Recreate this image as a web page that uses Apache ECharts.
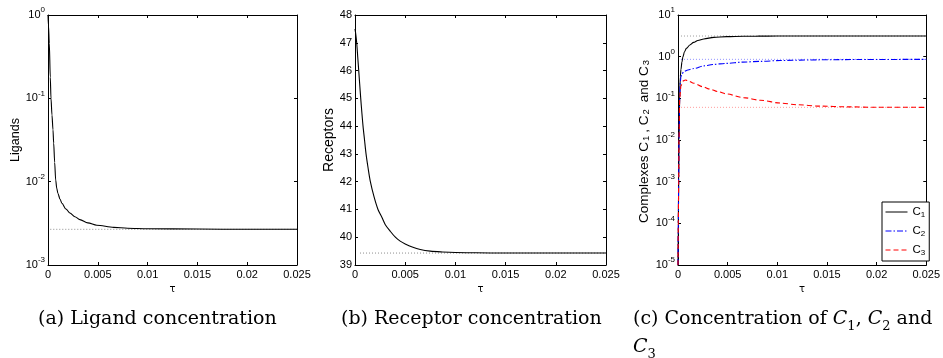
<!DOCTYPE html>
<html><head><meta charset="utf-8">
<script src="https://cdn.jsdelivr.net/npm/echarts@6/dist/echarts.min.js"></script>
<style>html,body{margin:0;padding:0;background:#fff}#chart{width:943px;height:358px}</style>
</head><body><div id="chart"></div>
<script>
// ---- data ----
const tauLig = [0, 0.00005, 0.00013, 0.00023, 0.0003, 0.0004, 0.0005, 0.00057, 0.00067, 0.00077, 0.00088, 0.001, 0.0012, 0.0014, 0.0018, 0.0022, 0.0027, 0.0032, 0.004, 0.0049, 0.0066, 0.008, 0.01, 0.015, 0.02, 0.025];
const ligands = [1.0, 0.74, 0.46, 0.18, 0.1, 0.063, 0.042, 0.029, 0.017, 0.0105, 0.0083, 0.0072, 0.0062, 0.0055, 0.0047, 0.0042, 0.0038, 0.0035, 0.0032, 0.0030, 0.00283, 0.00276, 0.00272, 0.0027, 0.00268, 0.00268];
const ligAsym = 0.00268, ligAsymStart = 0.00023;

const tauRec = [0, 0.00008, 0.00017, 0.00027, 0.00037, 0.00047, 0.00057, 0.00068, 0.0008, 0.00095, 0.0011, 0.0013, 0.00153, 0.0019, 0.00229, 0.0027, 0.00302, 0.0035, 0.00402, 0.0045, 0.005, 0.0057, 0.0065, 0.0075, 0.0087, 0.01, 0.012, 0.015, 0.02, 0.025];
const receptors = [47.5, 47.3, 47.0, 46.5, 46.0, 45.5, 45.0, 44.5, 44.0, 43.5, 43.0, 42.5, 42.0, 41.45, 41.0, 40.7, 40.45, 40.22, 40.0, 39.86, 39.76, 39.65, 39.56, 39.5, 39.47, 39.45, 39.44, 39.43, 39.43, 39.43];
const recAsym = 39.43, recAsymStart = 0.0005;

const tauC1 = [0, 0.00003, 0.00007, 0.0001, 0.00017, 0.00023, 0.0003, 0.0004, 0.0005, 0.00065, 0.00084, 0.0012, 0.00157, 0.002, 0.0026, 0.0036, 0.0049, 0.0066, 0.008, 0.01, 0.015, 0.025];
const c1 = [1e-5, 1e-4, 1e-3, 1e-2, 0.1, 0.33, 0.5, 0.75, 1.0, 1.3, 1.58, 1.9, 2.2, 2.45, 2.66, 2.91, 3.02, 3.08, 3.11, 3.125, 3.13, 3.13];
const tauC2 = [0, 0.00003, 0.00007, 0.0001, 0.00017, 0.00023, 0.0003, 0.0004, 0.0006, 0.001, 0.0016, 0.0026, 0.0035, 0.0049, 0.0065, 0.0083, 0.0103, 0.0143, 0.018, 0.025];
const c2 = [1e-5, 1e-4, 1e-3, 1e-2, 0.1, 0.25, 0.33, 0.39, 0.44, 0.48, 0.52, 0.6, 0.65, 0.69, 0.74, 0.77, 0.81, 0.84, 0.855, 0.862];
const tauC3 = [0, 0.00003, 0.00007, 0.0001, 0.00017, 0.0003, 0.0005, 0.00074, 0.001, 0.0016, 0.0025, 0.0032, 0.004, 0.0049, 0.0066, 0.0083, 0.0103, 0.012, 0.0143, 0.017, 0.02, 0.025];
const c3 = [1e-5, 1e-4, 1e-3, 1e-2, 0.1, 0.2, 0.26, 0.275, 0.265, 0.23, 0.19, 0.167, 0.145, 0.127, 0.104, 0.09, 0.077, 0.07, 0.065, 0.0625, 0.061, 0.0608];
const cAsym = [3.13, 0.863, 0.0608], cAsymStart = 0.0003;
const cNames = ['C1', 'C2', 'C3'];

const tauMin = 0, tauMax = 0.025, tauStep = 0.005;
const captions = ['(a) Ligand concentration', '(b) Receptor concentration', '(c) Concentration of {i|C}{s|1}, {i|C}{s|2} and\n{i|C}{s|3}'];

// ---- helpers ----
const zip = (xs, ys) => xs.map((x, i) => [x, ys[i]]);
const SANS = 'Liberation Sans';
const tickStyle = {show: true, inside: true, length: 3, lineStyle: {color: '#000', width: 1}};
const lineStyleAx = {show: true, onZero: false, lineStyle: {color: '#000', width: 1}};
const logFmt = v => '{b|10}{s|' + Math.round(Math.log10(v)) + '}';
const logRich = {b: {fontSize: 11, lineHeight: 18, fontFamily: SANS, color: '#000'}, s: {fontSize: 8, lineHeight: 10, verticalAlign: 'top', fontFamily: SANS, color: '#000'}};

function xAxes(g) {
  const base = {type: 'value', gridIndex: g, min: tauMin, max: tauMax, interval: tauStep, splitLine: {show: false}, axisLine: lineStyleAx, axisTick: tickStyle};
  return [
    Object.assign({}, base, {position: 'bottom', name: 'τ', nameLocation: 'middle', nameGap: 14,
      nameTextStyle: {fontFamily: 'DejaVu Sans', fontSize: 10, color: '#000'},
      axisLabel: {margin: 4, fontSize: 11, fontFamily: SANS, color: '#000', formatter: v => String(+v.toFixed(3))}}),
    Object.assign({}, base, {position: 'top', axisLabel: {show: false}})
  ];
}
function yAxes(g, cfg) {
  const base = Object.assign({gridIndex: g, splitLine: {show: false}, axisLine: lineStyleAx, axisTick: tickStyle}, cfg.scale);
  return [
    Object.assign({}, base, {position: 'left', name: cfg.name, nameLocation: 'middle', nameGap: cfg.gap,
      nameTextStyle: Object.assign({fontFamily: SANS, fontSize: cfg.nameSize, color: '#000'}, cfg.nameRich ? {rich: cfg.nameRich} : {}),
      axisLabel: cfg.label}),
    Object.assign({}, base, {position: 'right', axisLabel: {show: false}})
  ];
}

const logScale = (mn, mx) => ({type: 'log', logBase: 10, min: mn, max: mx, interval: 1});

const xAxis = [...xAxes(0), ...xAxes(1), ...xAxes(2)];
const yAxis = [
  ...yAxes(0, {scale: logScale(1e-3, 1), name: 'Ligands', gap: 25, nameSize: 12.5,
    label: {margin: 3, formatter: logFmt, rich: logRich}}),
  ...yAxes(1, {scale: {type: 'value', min: 39, max: 48, interval: 1}, name: 'Receptors', gap: 15, nameSize: 14,
    label: {margin: 3, fontSize: 11, fontFamily: SANS, color: '#000'}}),
  ...yAxes(2, {scale: logScale(1e-5, 10), name: 'Complexes C{s|1}, C{s|2} and C{s|3}', gap: 27, nameSize: 13.5,
    nameRich: {s: {fontSize: 9.5, fontFamily: SANS, color: '#000', verticalAlign: 'bottom', lineHeight: 11, padding: [0, 3, 0, 1]}},
    label: {margin: 3, formatter: logFmt, rich: logRich}})
];

const dotted = (xi, yi, x0, y, color) => ({type: 'line', xAxisIndex: xi, yAxisIndex: yi, data: [[x0, y], [tauMax, y]],
  symbol: 'none', silent: true, z: 1, lineStyle: {color: color, width: 1, type: [1, 2]}});
const curve = (xi, yi, data, color, dash, name, mono) => ({type: 'line', name: name, xAxisIndex: xi, yAxisIndex: yi, data: data,
  symbol: 'none', showSymbol: false, smooth: 0.3, smoothMonotone: mono ? 'x' : undefined, z: 3,
  lineStyle: {color: color, width: 1.1, type: dash}, itemStyle: {color: color}});

const series = [
  dotted(0, 0, ligAsymStart, ligAsym, '#8c8c8c'),
  curve(0, 0, zip(tauLig, ligands), '#000', 'solid', undefined, true),
  dotted(2, 2, recAsymStart, recAsym, '#8c8c8c'),
  curve(2, 2, zip(tauRec, receptors), '#000', 'solid', undefined, false),
  dotted(4, 4, cAsymStart, cAsym[0], '#9a9a9a'),
  dotted(4, 4, cAsymStart, cAsym[1], '#8f8fff'),
  dotted(4, 4, cAsymStart, cAsym[2], '#ff9a9a'),
  curve(4, 4, zip(tauC1, c1), '#000', 'solid', cNames[0], true),
  curve(4, 4, zip(tauC2, c2), '#0000ff', [6, 2, 1.5, 2], cNames[1], true),
  curve(4, 4, zip(tauC3, c3), '#ff0000', [5, 3], cNames[2], true)
];

const capStyle = {fontFamily: 'DejaVu Serif', fontSize: 19, fontWeight: 'normal', color: '#000', lineHeight: 28,
  rich: {i: {fontStyle: 'italic', fontFamily: 'DejaVu Serif', fontSize: 19, color: '#000', lineHeight: 28},
         s: {fontFamily: 'DejaVu Serif', fontSize: 13, color: '#000', verticalAlign: 'bottom', lineHeight: 18}}};

const option = {
  animation: false,
  backgroundColor: '#fff',
  grid: [
    {left: 48, top: 15, width: 249, height: 250},
    {left: 355, top: 15, width: 251, height: 250},
    {left: 678, top: 15, width: 249, height: 250}
  ],
  xAxis: xAxis,
  yAxis: yAxis,
  legend: {data: cNames, orient: 'vertical', left: 882, top: 202, padding: [4, 4, 4, 3], itemGap: 6,
    itemWidth: 22, itemHeight: 10, borderColor: '#000', borderWidth: 1, backgroundColor: '#fff', borderRadius: 0,
    itemStyle: {opacity: 0}, lineStyle: {width: 1},
    formatter: n => '{c|C}{s|' + n.slice(1) + '}',
    textStyle: {fontFamily: SANS, fontSize: 11, color: '#000',
      rich: {c: {fontSize: 11.5, lineHeight: 14, fontFamily: SANS, color: '#000'},
             s: {fontSize: 8, lineHeight: 8, verticalAlign: 'bottom', fontFamily: SANS, color: '#000'}}}},
  title: [
    {text: captions[0], left: 38, top: 305, padding: 0, textStyle: capStyle},
    {text: captions[1], left: 341, top: 305, padding: 0, textStyle: capStyle},
    {text: captions[2], left: 633, top: 305, padding: 0, textStyle: capStyle}
  ],
  series: series
};
const chart = echarts.init(document.getElementById('chart'), null, {renderer: 'canvas'});
chart.setOption(option);
</script></body></html>
